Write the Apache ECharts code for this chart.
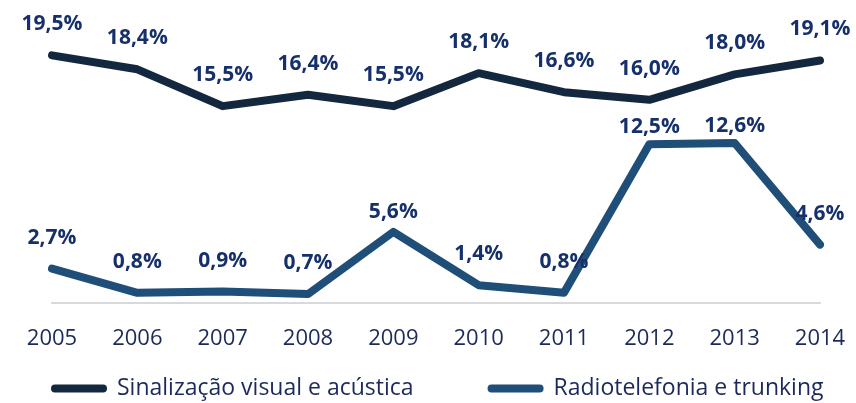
<!DOCTYPE html>
<html>
<head>
    <meta charset="utf-8" />
    <style>
        html, body { margin: 0; padding: 0; background: #fff; }
        #chart { width: 856px; height: 403px; }
    </style>
    <script src="https://cdn.jsdelivr.net/npm/echarts@6/dist/echarts.min.js"></script>
</head>
<body>
    <div id="chart"></div>
    <script type="text/javascript">
        var years = ['2005', '2006', '2007', '2008', '2009', '2010', '2011', '2012', '2013', '2014'];
        var sinalizacao = [19.5, 18.4, 15.5, 16.4, 15.5, 18.1, 16.6, 16.0, 18.0, 19.1];
        var radiotelefonia = [2.7, 0.8, 0.9, 0.7, 5.6, 1.4, 0.8, 12.5, 12.6, 4.6];
        var seriesNames = ['Sinalização visual e acústica', 'Radiotelefonia e trunking'];
        var colors = ['#13283f', '#1f4e79'];

        /* distancia do rotulo acima do ponto (ajustes pontuais) */
        var labelDist = { 4: 9, 7: 6, 8: 6 };

        var fmt = function (p) {
            return p.value.toFixed(1).replace('.', ',') + '%';
        };

        function items(values, dists) {
            return values.map(function (v, i) {
                var d = { value: v };
                if (dists && dists[i] !== undefined) {
                    d.label = { distance: dists[i] };
                }
                return d;
            });
        }

        var labelStyle = {
            show: true,
            position: 'top',
            distance: 20,
            formatter: fmt,
            color: '#15306a',
            fontFamily: 'Open Sans',
            fontWeight: 'bold',
            fontSize: 21
        };

        var capsule = 'path://M4,0 H52 A4,4 0 0 1 52,8 H4 A4,4 0 0 1 4,0 Z';

        var chart = echarts.init(document.getElementById('chart'));
        var option = {
            backgroundColor: '#fff',
            animation: false,
            grid: { left: 52, right: 36, top: 49, bottom: 100 },
            xAxis: {
                type: 'category',
                data: years,
                boundaryGap: false,
                axisLine: { lineStyle: { color: '#d9d9d9', width: 2 } },
                axisTick: { show: false },
                axisLabel: {
                    margin: 25,
                    color: '#1b2a5a',
                    fontFamily: 'Open Sans',
                    fontSize: 22
                }
            },
            yAxis: {
                type: 'value',
                min: 0,
                max: 20,
                show: false,
                splitLine: { show: false }
            },
            legend: {
                left: 46,
                top: 372,
                itemWidth: 58,
                itemHeight: 8,
                itemGap: 74,
                icon: capsule,
                textStyle: {
                    color: '#1b2a5a',
                    fontFamily: 'Open Sans',
                    fontSize: 23,
                    padding: [0, 0, 0, 4]
                },
                data: seriesNames.map(function (n, i) {
                    return { name: n, itemStyle: { color: colors[i], opacity: 1 } };
                })
            },
            series: [
                {
                    name: seriesNames[0],
                    type: 'line',
                    data: items(sinalizacao),
                    symbol: 'circle',
                    symbolSize: 1,
                    itemStyle: { color: 'rgba(0,0,0,0)' },
                    lineStyle: { width: 8, color: colors[0], cap: 'round', join: 'round' },
                    label: labelStyle
                },
                {
                    name: seriesNames[1],
                    type: 'line',
                    data: items(radiotelefonia, labelDist),
                    symbol: 'circle',
                    symbolSize: 1,
                    itemStyle: { color: 'rgba(0,0,0,0)' },
                    lineStyle: { width: 8, color: colors[1], cap: 'round', join: 'round' },
                    label: labelStyle
                }
            ]
        };
        chart.setOption(option);
    </script>
</body>
</html>
